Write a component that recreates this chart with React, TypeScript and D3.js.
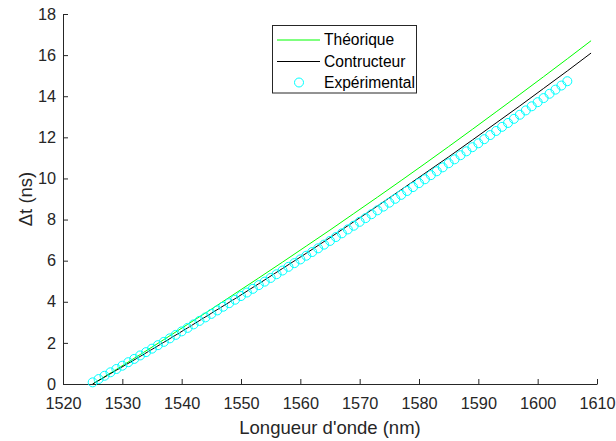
import React, { useEffect, useRef } from "react";
import * as d3 from "d3";

// Wavelength grid (nm) for the two model curves
const lineWavelengths = [1525, 1529, 1533, 1537, 1541, 1545, 1549, 1553, 1557, 1561, 1565, 1569, 1573, 1577, 1581, 1585, 1589, 1593, 1597, 1601, 1605, 1609];
// Théorique (ns)
const theoretical = [0, 0.71, 1.43, 2.16, 2.9, 3.64, 4.4, 5.16, 5.93, 6.71, 7.49, 8.29, 9.09, 9.9, 10.72, 11.55, 12.39, 13.24, 14.09, 14.95, 15.82, 16.7];
// Contructeur (ns)
const constructor = [0, 0.67, 1.34, 2.03, 2.73, 3.44, 4.15, 4.88, 5.62, 6.36, 7.12, 7.89, 8.66, 9.45, 10.25, 11.05, 11.87, 12.7, 13.53, 14.38, 15.23, 16.1];
// Expérimental: wavelengths 1525..1605 nm
const expWavelengths = d3.range(1525, 1606, 1);
const experimental = [
  0.08, 0.24, 0.4, 0.57, 0.73, 0.89, 1.06, 1.22, 1.39, 1.55,
  1.72, 1.89, 2.05, 2.22, 2.39, 2.56, 2.73, 2.9, 3.07, 3.24,
  3.41, 3.58, 3.76, 3.93, 4.1, 4.28, 4.45, 4.63, 4.81, 4.98,
  5.16, 5.34, 5.52, 5.7, 5.88, 6.06, 6.24, 6.42, 6.6, 6.78,
  6.96, 7.15, 7.33, 7.52, 7.7, 7.89, 8.07, 8.26, 8.45, 8.63,
  8.82, 9.01, 9.2, 9.39, 9.58, 9.77, 9.96, 10.16, 10.35, 10.54,
  10.74, 10.93, 11.13, 11.32, 11.52, 11.71, 11.91, 12.11, 12.31, 12.51,
  12.7, 12.9, 13.1, 13.31, 13.51, 13.71, 13.91, 14.12, 14.32, 14.52,
  14.73,
];
const xTicks = [1520, 1530, 1540, 1550, 1560, 1570, 1580, 1590, 1600, 1610];
const yTicks = [0, 2, 4, 6, 8, 10, 12, 14, 16, 18];
const legendLabels = ["Théorique", "Contructeur", "Expérimental"];

const W = 616;
const H = 441;
const FONT = "'Liberation Sans', Arial, sans-serif";
const AXIS = "#262626";

export default function App() {
  const ref = useRef<SVGSVGElement>(null);

  useEffect(() => {
    const svg = d3.select(ref.current);
    svg.selectAll("*").remove();

    const x = d3.scaleLinear().domain([1520, 1610]).range([63, 597]);
    const y = d3.scaleLinear().domain([0, 18]).range([384, 14]);

    // X axis
    const gx = svg
      .append("g")
      .attr("transform", `translate(0,${y(0)})`)
      .call(d3.axisBottom(x).tickValues(xTicks).tickFormat(d3.format("d")).tickSizeInner(-5).tickSizeOuter(0).tickPadding(13));
    gx.select(".domain").attr("stroke", AXIS).attr("stroke-width", 1);
    gx.selectAll(".tick line").attr("stroke", AXIS);
    gx.selectAll(".tick text").attr("fill", AXIS).attr("font-size", 16.3).attr("font-family", FONT);

    // Y axis
    const gy = svg
      .append("g")
      .attr("transform", `translate(${x(1520)},0)`)
      .call(d3.axisLeft(y).tickValues(yTicks).tickFormat(d3.format("d")).tickSizeInner(-5).tickSizeOuter(0).tickPadding(7));
    gy.select(".domain").attr("stroke", AXIS).attr("stroke-width", 1);
    gy.selectAll(".tick line").attr("stroke", AXIS);
    gy.selectAll(".tick text").attr("fill", AXIS).attr("font-size", 16.3).attr("font-family", FONT);

    // Axis labels
    svg
      .append("text")
      .attr("x", 330)
      .attr("y", 434)
      .attr("text-anchor", "middle")
      .attr("font-family", FONT)
      .attr("font-size", 18.5)
      .attr("fill", AXIS)
      .text("Longueur d'onde (nm)");
    svg
      .append("text")
      .attr("transform", `translate(32,199) rotate(-90)`)
      .attr("text-anchor", "middle")
      .attr("font-family", FONT)
      .attr("font-size", 18.5)
      .attr("fill", AXIS)
      .text("Δt (ns)");

    const line = d3
      .line<number>()
      .x((_, i) => x(lineWavelengths[i]))
      .y((d) => y(d));

    svg.append("path").attr("d", line(theoretical)).attr("fill", "none").attr("stroke", "#00ff00").attr("stroke-width", 1);
    svg.append("path").attr("d", line(constructor)).attr("fill", "none").attr("stroke", "#000000").attr("stroke-width", 1);

    svg
      .append("g")
      .selectAll("circle")
      .data(experimental)
      .join("circle")
      .attr("cx", (_, i) => x(expWavelengths[i]))
      .attr("cy", (d) => y(d))
      .attr("r", 4.5)
      .attr("fill", "none")
      .attr("stroke", "#00ffff")
      .attr("stroke-width", 1);

    // Legend
    const lg = svg.append("g");
    lg.append("rect")
      .attr("x", 272.5)
      .attr("y", 25.5)
      .attr("width", 144)
      .attr("height", 67.5)
      .attr("fill", "#ffffff")
      .attr("stroke", AXIS)
      .attr("stroke-width", 1);
    const rowsY = [40, 61.5, 82.5];
    const colors = ["#00ff00", "#000000", "#00ffff"];
    legendLabels.forEach((lab, i) => {
      if (i < 2) {
        lg.append("line")
          .attr("x1", 277)
          .attr("x2", 320)
          .attr("y1", rowsY[i])
          .attr("y2", rowsY[i])
          .attr("stroke", colors[i])
          .attr("stroke-width", 1);
      } else {
        lg.append("circle")
          .attr("cx", 299)
          .attr("cy", rowsY[i])
          .attr("r", 4.5)
          .attr("fill", "none")
          .attr("stroke", colors[i])
          .attr("stroke-width", 1);
      }
      lg.append("text")
        .attr("x", 324)
        .attr("y", rowsY[i])
        .attr("dy", "0.35em")
        .attr("font-family", FONT)
        .attr("font-size", 15.6)
        .attr("fill", "#000000")
        .text(lab);
    });
  }, []);

  return (
    <svg
      ref={ref}
      width={W}
      height={H}
      style={{ position: "absolute", left: 0, top: 0, display: "block", background: "#ffffff" }}
    />
  );
}
